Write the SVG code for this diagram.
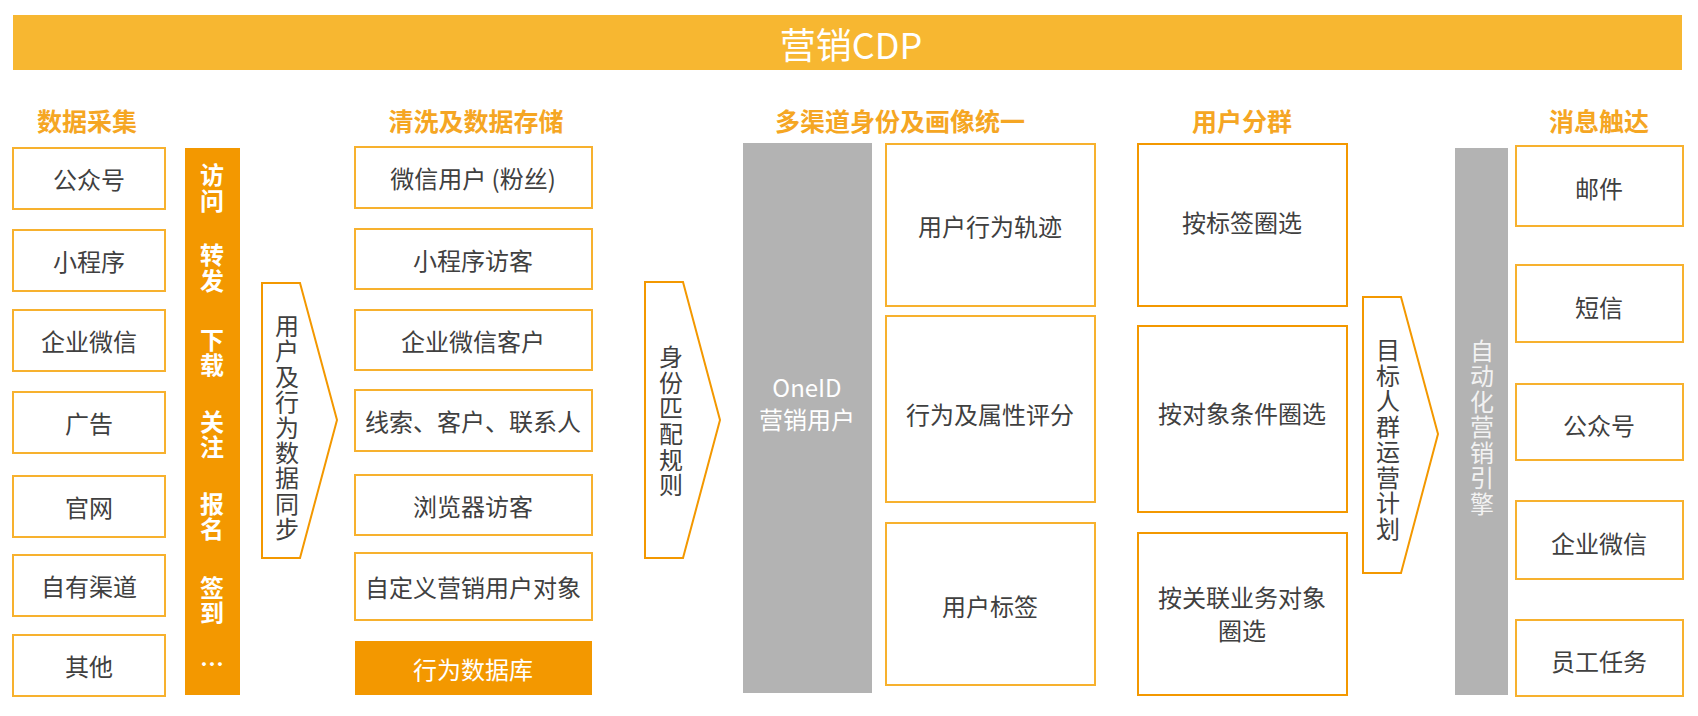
<svg xmlns="http://www.w3.org/2000/svg" width="1698" height="716" viewBox="0 0 1698 716">
<style>
text{font-family:"Noto Sans CJK SC","Noto Sans",sans-serif;text-anchor:middle;dominant-baseline:central}
.t{font-size:24px;fill:#404040}
.w{font-size:24px;fill:#ffffff}
.h{font-size:25px;fill:#F5A623;font-weight:bold}
.b{fill:#fff;stroke:#F7B12E;stroke-width:2}
.b2{fill:#fff;stroke:#F39800;stroke-width:2}
.o{fill:#F39800}
.g{fill:#B3B3B3}
.ar{fill:#fff;stroke:#F39800;stroke-width:2;stroke-linejoin:miter}
</style>
<g id="title"><rect x="13" y="15" width="1669" height="55" fill="#F7B731"/><text x="851" y="43" style="font-size:36px;fill:#fff">营销CDP</text></g>
<g id="headers">
<text class="h" x="87" y="120">数据采集</text>
<text class="h" x="476" y="120">清洗及数据存储</text>
<text class="h" x="900" y="120">多渠道身份及画像统一</text>
<text class="h" x="1242" y="120">用户分群</text>
<text class="h" x="1599" y="120">消息触达</text>
</g>
<g id="col1">
<g id="s1"><rect class="b" x="13" y="148" width="152" height="61"/><text class="t" x="89" y="178">公众号</text></g>
<g id="s2"><rect class="b" x="13" y="230" width="152" height="61"/><text class="t" x="89" y="260">小程序</text></g>
<g id="s3"><rect class="b" x="13" y="310" width="152" height="61"/><text class="t" x="89" y="340">企业微信</text></g>
<g id="s4"><rect class="b" x="13" y="392" width="152" height="61"/><text class="t" x="89" y="422">广告</text></g>
<g id="s5"><rect class="b" x="13" y="476" width="152" height="61"/><text class="t" x="89" y="506">官网</text></g>
<g id="s6"><rect class="b" x="13" y="555" width="152" height="61"/><text class="t" x="89" y="585">自有渠道</text></g>
<g id="s7"><rect class="b" x="13" y="635" width="152" height="61"/><text class="t" x="89" y="665">其他</text></g>
</g>
<g id="actions"><rect class="o" x="185" y="148" width="55" height="547"/>
<text class="w" style="font-weight:bold"><tspan x="212" y="173">访</tspan><tspan x="212" y="199">问</tspan><tspan x="212" y="253">转</tspan><tspan x="212" y="279">发</tspan><tspan x="212" y="338">下</tspan><tspan x="212" y="363">载</tspan><tspan x="212" y="420">关</tspan><tspan x="212" y="445">注</tspan><tspan x="212" y="502">报</tspan><tspan x="212" y="527">名</tspan><tspan x="212" y="586">签</tspan><tspan x="212" y="611">到</tspan><tspan x="212" y="662">…</tspan></text></g>
<g id="connectors">
<g id="arrow1"><polygon class="ar" points="262,283 300,283 337,420 300,558 262,558"/><text class="t"><tspan x="287" y="324">用</tspan><tspan x="287" y="349">户</tspan><tspan x="287" y="375">及</tspan><tspan x="287" y="400">行</tspan><tspan x="287" y="426">为</tspan><tspan x="287" y="451">数</tspan><tspan x="287" y="476">据</tspan><tspan x="287" y="502">同</tspan><tspan x="287" y="527">步</tspan></text></g>
<g id="arrow2"><polygon class="ar" points="645,282 683,282 720,420 683,558 645,558"/><text class="t"><tspan x="671" y="355">身</tspan><tspan x="671" y="381">份</tspan><tspan x="671" y="406">匹</tspan><tspan x="671" y="432">配</tspan><tspan x="671" y="458">规</tspan><tspan x="671" y="483">则</tspan></text></g>
<g id="arrow3"><polygon class="ar" points="1363,297 1401,297 1438,434 1401,573 1363,573"/><text class="t"><tspan x="1388" y="348">目</tspan><tspan x="1388" y="374">标</tspan><tspan x="1388" y="399">人</tspan><tspan x="1388" y="425">群</tspan><tspan x="1388" y="450">运</tspan><tspan x="1388" y="476">营</tspan><tspan x="1388" y="501">计</tspan><tspan x="1388" y="527">划</tspan></text></g>
</g>
<g id="col2">
<g id="c1"><rect class="b" x="355" y="147" width="237" height="61"/><text class="t" x="473" y="177">微信用户 (粉丝)</text></g>
<g id="c2"><rect class="b" x="355" y="229" width="237" height="60"/><text class="t" x="473" y="259">小程序访客</text></g>
<g id="c3"><rect class="b" x="355" y="310" width="237" height="60"/><text class="t" x="473" y="340">企业微信客户</text></g>
<g id="c4"><rect class="b" x="355" y="390" width="237" height="61"/><text class="t" x="473" y="420">线索、客户、联系人</text></g>
<g id="c5"><rect class="b" x="355" y="475" width="237" height="60"/><text class="t" x="473" y="505">浏览器访客</text></g>
<g id="c6"><rect class="b" x="355" y="553" width="237" height="67"/><text class="t" x="473" y="586">自定义营销用户对象</text></g>
<g id="c7"><rect class="o" x="355" y="641" width="237" height="54"/><text class="w" x="473" y="668">行为数据库</text></g>
</g>
<g id="oneid"><rect class="g" x="743" y="143" width="129" height="550"/><text class="w" x="807" y="386">OneID</text><text class="w" x="807" y="418">营销用户</text></g>
<g id="col3">
<g id="p1"><rect class="b" x="886" y="144" width="209" height="162"/><text class="t" x="990" y="225">用户行为轨迹</text></g>
<g id="p2"><rect class="b" x="886" y="316" width="209" height="186"/><text class="t" x="990" y="413">行为及属性评分</text></g>
<g id="p3"><rect class="b" x="886" y="523" width="209" height="162"/><text class="t" x="990" y="605">用户标签</text></g>
</g>
<g id="col4">
<g id="g1"><rect class="b2" x="1138" y="144" width="209" height="162"/><text class="t" x="1242" y="221">按标签圈选</text></g>
<g id="g2"><rect class="b2" x="1138" y="326" width="209" height="186"/><text class="t" x="1242" y="412">按对象条件圈选</text></g>
<g id="g3"><rect class="b2" x="1138" y="533" width="209" height="162"/><text class="t" x="1242" y="596">按关联业务对象</text><text class="t" x="1242" y="629">圈选</text></g>
</g>
<g id="engine"><rect class="g" x="1455" y="148" width="53" height="547"/><text class="w" style="fill:#F2F2F2"><tspan x="1482" y="349">自</tspan><tspan x="1482" y="374">动</tspan><tspan x="1482" y="400">化</tspan><tspan x="1482" y="425">营</tspan><tspan x="1482" y="451">销</tspan><tspan x="1482" y="476">引</tspan><tspan x="1482" y="502">擎</tspan></text></g>
<g id="col5">
<g id="m1"><rect class="b" x="1516" y="146" width="167" height="80"/><text class="t" x="1599" y="187">邮件</text></g>
<g id="m2"><rect class="b" x="1516" y="265" width="167" height="77"/><text class="t" x="1599" y="306">短信</text></g>
<g id="m3"><rect class="b" x="1516" y="384" width="167" height="76"/><text class="t" x="1599" y="424">公众号</text></g>
<g id="m4"><rect class="b" x="1516" y="501" width="167" height="78"/><text class="t" x="1599" y="542">企业微信</text></g>
<g id="m5"><rect class="b" x="1516" y="620" width="167" height="76"/><text class="t" x="1599" y="660">员工任务</text></g>
</g>
</svg>
